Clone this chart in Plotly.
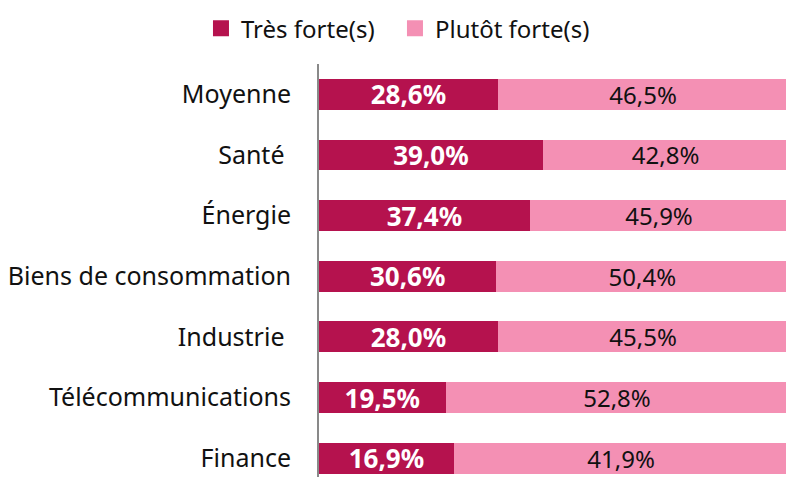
import plotly.graph_objects as go

categories = ["Moyenne", "Santé\u00a0", "Énergie", "Biens de consommation",
              "Industrie\u00a0", "Télécommunications", "Finance"]
tres_forte = [28.6, 39.0, 37.4, 30.6, 28.0, 19.5, 16.9]
plutot_forte = [46.5, 42.8, 45.9, 50.4, 45.5, 52.8, 41.9]
series_names = ["Très forte(s)", "Plutôt forte(s)"]
colors = ["#B5124E", "#F490B4"]

FONT = "Noto Sans"


def fmt(v):
    return f"{v:.1f}".replace(".", ",") + "%"


fig = go.Figure()
fig.add_trace(go.Bar(
    y=categories, x=tres_forte, orientation="h", name=series_names[0],
    marker=dict(color=colors[0], line=dict(width=0)),
    text=[fmt(v) for v in tres_forte], textposition="inside",
    insidetextanchor="middle", constraintext="none",
    textfont=dict(family=FONT, size=26, color="white", weight="bold"),
    showlegend=False, hoverinfo="skip",
))
fig.add_trace(go.Bar(
    y=categories, x=plutot_forte, orientation="h", name=series_names[1],
    marker=dict(color=colors[1], line=dict(width=0)),
    text=[fmt(v) for v in plutot_forte], textposition="inside",
    insidetextanchor="middle", constraintext="none",
    textfont=dict(family=FONT, size=24, color="#111111"),
    showlegend=False, hoverinfo="skip",
))
# legend entries with larger square swatches (one legend per entry for spacing)
for name, col, lg in zip(series_names, colors, ["legend", "legend2"]):
    fig.add_trace(go.Scatter(
        x=[None], y=[None], mode="markers", name=name, legend=lg,
        marker=dict(symbol="square", size=17, color=col),
    ))

legend_common = dict(orientation="h", xref="container", yref="container",
                     xanchor="left", y=0.987, yanchor="top",
                     font=dict(family=FONT, size=24, color="#111111"),
                     itemsizing="trace", bgcolor="rgba(0,0,0,0)")

fig.update_layout(
    width=786, height=477,
    barmode="stack", barnorm="percent", bargap=0.49,
    margin=dict(l=319, r=0, t=64, b=0),
    paper_bgcolor="white", plot_bgcolor="white",
    font=dict(family=FONT, size=25, color="#111111"),
    legend=dict(x=0.2557, **legend_common),
    legend2=dict(x=0.5025, **legend_common),
    xaxis=dict(range=[0, 99.5], showticklabels=False, showgrid=False,
               zeroline=False, showline=False, fixedrange=True),
    yaxis=dict(categoryorder="array", categoryarray=categories,
               range=[6.31, -0.5], autorange=False,
               showline=True, linecolor="#898989", linewidth=2,
               showgrid=False, zeroline=False, ticks="",
               ticklabelstandoff=21,
               tickfont=dict(family=FONT, size=25, color="#111111")),
)

fig.write_html(
    "out.html",
    config={"displayModeBar": False},
    post_script="document.body.style.margin='0';"
                "document.body.style.overflow='hidden';",
)
